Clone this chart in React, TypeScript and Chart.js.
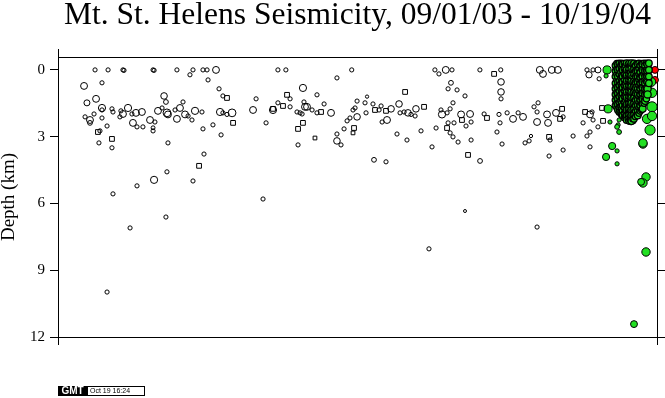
import { useEffect, useRef } from 'react';
import { Chart, registerables } from 'chart.js';

Chart.register(...registerables);

const TITLE = 'Mt. St. Helens Seismicity, 09/01/03 - 10/19/04';
const Y_TITLE = 'Depth (km)';
const DEPTH_TICKS = [0, 3, 6, 9, 12];
const DAY_START = 0; // 09/01/03
const DAY_END = 414; // 10/19/04
const DEPTH_TOP = -0.58;
const DEPTH_BOTTOM = 12;
const STAMP_LOGO = 'GMT';
const STAMP_TEXT = 'Oct 19 16:24';

// [day since 09/01/03, depth km, magnitude]
const openCircles: [number, number, number][] = [
  [25.6, 0, 0.6], [34.6, 0, 0.6], [44.9, 0, 0.6], [45.6, 0.02, 0.6], [65.7, 0, 0.6], [66.4, 0.02, 0.6],
  [82.2, 0, 0.6], [93.3, 0, 0.6], [100.2, 0, 0.6], [103, 0, 0.6], [109.2, 0, 1.5], [152, 0, 0.6],
  [157.5, 0, 0.6], [203, 0, 0.6], [260.5, 0, 0.6], [268, 0, 1.5], [272.3, 0, 0.6], [291.6, 0, 0.6],
  [306, 0, 0.6], [333, 0, 1.5], [341.3, 0, 1.5], [345.5, 0, 1.5], [365.6, 0, 0.6], [369.8, 0, 0.6], [373.2, 0, 1.2],
  [91.2, 0.22, 0.6], [18, 0.72, 1.5], [30.4, 0.58, 0.6], [103.7, 0.45, 0.6], [111.3, 0.85, 0.6], [169.3, 0.81, 1.6],
  [192.8, 0.36, 0.6], [263.3, 0.18, 0.6], [271.6, 0.58, 0.8], [269.6, 0.85, 0.6], [275.8, 0.9, 0.6],
  [306.2, 0.54, 1.4], [306.2, 0.99, 1.4], [306.2, 1.3, 0.6], [335.2, 0.18, 1.5], [367, 0.22, 1.3], [374, 0.4, 0.6],
  [26.3, 1.3, 1.5], [20, 1.48, 1.2], [30.4, 1.71, 1.6], [73.3, 1.17, 1.4], [74.6, 1.44, 0.8], [86.4, 1.44, 0.6],
  [114, 1.17, 0.6], [136.9, 1.3, 0.6], [160.4, 1.3, 0.6], [170, 1.44, 0.6], [170.7, 1.66, 1.5], [172.1, 1.66, 1.5],
  [179, 1.12, 0.6], [183.9, 1.53, 0.6], [206.7, 1.4, 0.6], [212.2, 1.48, 0.6], [213.6, 1.2, 0.3], [217.7, 1.53, 0.6],
  [223.3, 1.62, 0.6], [230.2, 1.75, 1.4], [235.7, 1.53, 1.4], [281.3, 1.17, 0.6], [273, 1.48, 0.6], [331.8, 1.48, 0.6],
  [329, 1.66, 0.6],
  [18.7, 2.11, 0.6], [22.1, 2.25, 1.5], [22.1, 2.38, 0.8], [24.9, 1.98, 0.6], [30.4, 1.8, 0.6], [30.4, 2.16, 0.6],
  [37.3, 1.75, 0.6], [38, 1.89, 0.6], [43.5, 1.84, 0.6], [42.8, 2.11, 0.6], [44.9, 1.98, 1.5], [48.4, 1.71, 1.6],
  [51.1, 1.98, 0.6], [51.8, 2.38, 1.5], [53.9, 1.93, 1.5], [58, 1.89, 1.5], [54.6, 2.56, 0.6], [58.7, 2.56, 0.6],
  [63.6, 2.25, 1.5], [67, 2.34, 0.6], [69.1, 1.84, 1.5], [71.9, 1.71, 0.6], [75.3, 1.93, 1.8], [76, 2.0, 1.5],
  [80.9, 1.8, 0.6], [82.2, 2.2, 1.5], [84.3, 1.71, 1.5], [87.8, 2.0, 1.5], [89.9, 2.07, 0.6], [92.6, 2.25, 0.6],
  [94.7, 1.84, 1.6], [99.5, 1.89, 0.6], [107.1, 2.47, 0.6], [112, 1.89, 1.6], [114, 1.93, 0.6], [116.8, 2.0, 0.6],
  [120.3, 1.93, 1.8], [134.8, 1.8, 1.5], [143.8, 2.38, 0.6], [148.6, 1.8, 1.6], [152, 1.48, 0.6], [160.4, 1.66, 0.6],
  [165.2, 1.89, 0.6], [168.7, 1.98, 0.6], [175.6, 1.8, 0.6], [179, 1.93, 0.6], [188.7, 1.93, 1.5], [167.3, 1.93, 0.6],
  [199.8, 2.29, 0.6], [201.8, 2.16, 0.6], [203.9, 1.8, 0.6], [205.3, 1.71, 0.6], [206.7, 2.11, 1.4], [212.9, 1.93, 0.6],
  [221.9, 1.8, 0.6], [224, 2.34, 0.6], [227.4, 2.25, 1.5], [236.4, 1.93, 0.6], [239.2, 1.89, 0.6], [241.9, 1.93, 1.4],
  [244, 2.0, 0.6], [247.4, 1.75, 1.4], [246.8, 2.07, 0.6], [264.7, 1.8, 0.6], [265.4, 2.0, 1.6], [268.9, 1.93, 0.6],
  [271, 1.75, 0.6], [269.6, 2.38, 0.6], [273.7, 2.38, 0.6], [278.6, 2.0, 1.5], [284.8, 1.98, 1.5], [285.5, 2.34, 0.6],
  [282, 2.52, 0.6], [294.5, 1.98, 0.6], [304.8, 2.0, 0.6], [305.5, 2.38, 0.6], [310.4, 1.93, 0.6], [314.5, 2.2, 1.5],
  [318, 1.93, 0.6], [321.4, 2.11, 1.5], [331.1, 2.34, 1.5], [331.1, 1.89, 0.6], [338, 2.0, 1.5], [338.7, 2.38, 1.5],
  [344.2, 1.93, 1.5], [349.1, 2.11, 0.6], [362.9, 2.38, 0.6], [367.7, 2.0, 1.5], [369.8, 2.25, 0.6], [369.1, 1.89, 0.6],
  [373.2, 2.56, 0.6],
  [29, 2.74, 0.6], [28.3, 3.28, 0.6], [37.3, 3.5, 0.6], [33.9, 2.52, 0.6], [65.7, 2.74, 0.6], [65.7, 2.6, 0.5],
  [76, 3.28, 0.6], [100.2, 2.65, 0.6], [112.7, 2.92, 0.6], [100.9, 3.78, 0.6], [165.9, 3.37, 0.6], [192.8, 2.88, 0.6],
  [192.8, 3.19, 1.4], [195.6, 3.37, 0.6], [197.7, 2.65, 0.6], [234.3, 2.88, 0.6], [241.2, 3.15, 0.6], [250.9, 2.74, 0.6],
  [258.5, 3.46, 0.6], [218.4, 4.04, 0.8], [226.7, 4.13, 0.6], [261.3, 2.61, 0.6], [271, 2.83, 0.6], [273, 3.01, 0.6],
  [276.5, 3.24, 0.6], [285.5, 3.15, 0.6], [291.7, 4.09, 0.8], [303.4, 2.79, 0.6], [306.9, 3.33, 0.6], [322.8, 3.28, 0.6],
  [325.6, 3.19, 0.6], [326.9, 2.97, 0.3], [340.1, 3.15, 0.6], [339.4, 3.87, 0.6], [356, 2.97, 0.6], [365.6, 2.97, 0.6],
  [367.7, 2.79, 0.6], [367.7, 3.46, 0.6], [349.1, 3.6, 0.6],
  [75.3, 4.58, 0.6], [66.4, 4.94, 1.6], [93.3, 4.99, 0.6], [54.6, 5.21, 0.6], [38, 5.57, 0.6], [141.7, 5.8, 0.6],
  [74.6, 6.61, 0.6], [49.8, 7.1, 0.6], [33.9, 9.98, 0.6], [281.3, 6.34, 0.2], [256.4, 8.04, 0.6], [331.1, 7.06, 0.6],
];

const openSquares: [number, number, number][] = [
  [116.8, 1.26, 0.6], [158.3, 1.12, 0.6], [239.9, 0.99, 0.6], [253, 1.66, 0.6], [301.4, 0.18, 0.6], [121, 2.38, 0.6],
  [148.6, 1.75, 0.6], [155.5, 1.62, 0.6], [169.3, 2.38, 0.6], [165.9, 2.65, 0.6], [181.8, 1.89, 0.6], [219.1, 1.8, 0.6],
  [226.7, 1.84, 0.6], [279.2, 2.25, 0.6], [296.5, 2.16, 0.6], [348.4, 1.75, 0.6], [347, 2.2, 0.6], [364.3, 1.89, 0.6],
  [376.7, 2.29, 0.6], [376, 1.71, 0.6], [27.6, 2.79, 0.6], [37.3, 3.1, 0.6], [97.5, 4.31, 0.6], [177.6, 3.06, 0.3],
  [204.6, 2.61, 0.6], [203.9, 2.83, 0.3], [268.9, 2.61, 0.6], [283.4, 3.82, 0.6], [339.4, 3.01, 0.6],
];

// dense swarm after the eruption onset: one column of depths per day
const swarmDays = [
  385.2, 386.1, 387.0, 387.8, 388.7, 389.5, 390.4, 391.2, 392.1, 393.0, 393.8, 394.7, 395.5, 396.4,
  397.2, 398.1, 399.0, 399.8, 400.7, 401.5, 402.4, 403.2, 404.1, 405.0, 405.8, 406.7, 407.5, 408.4,
];
const swarmDepths: number[][] = [
  [-0.2, 0.05, 0.3, 0.6, 0.85, 1.1, 1.35, 1.6],
  [-0.3, -0.05, 0.2, 0.45, 0.75, 1.0, 1.25, 1.5, 1.7],
  [-0.25, 0.0, 0.3, 0.55, 0.8, 1.05, 1.3, 1.55, 1.8],
  [-0.3, -0.05, 0.2, 0.5, 0.7, 0.95, 1.2, 1.45, 1.7, 1.9],
  [-0.2, 0.1, 0.35, 0.6, 0.85, 1.1, 1.4, 1.65, 1.9],
  [-0.3, -0.05, 0.25, 0.5, 0.75, 1.0, 1.25, 1.5, 1.75, 2.0],
  [-0.25, 0.0, 0.3, 0.55, 0.8, 1.05, 1.3, 1.6, 1.85, 2.05],
  [-0.3, -0.05, 0.2, 0.45, 0.7, 0.95, 1.2, 1.45, 1.7, 1.95, 2.15],
  [-0.2, 0.05, 0.3, 0.6, 0.85, 1.1, 1.35, 1.6, 1.85, 2.1],
  [-0.3, 0.0, 0.25, 0.5, 0.75, 1.0, 1.25, 1.55, 1.8, 2.05, 2.25],
  [-0.25, 0.05, 0.3, 0.55, 0.8, 1.05, 1.3, 1.55, 1.8, 2.0, 2.2],
  [-0.3, -0.05, 0.2, 0.45, 0.7, 0.95, 1.2, 1.5, 1.75, 2.0, 2.3],
  [-0.2, 0.1, 0.35, 0.6, 0.85, 1.1, 1.35, 1.6, 1.85, 2.1, 2.25],
  [-0.3, -0.05, 0.25, 0.5, 0.75, 1.0, 1.25, 1.5, 1.8, 2.05, 2.3],
  [-0.25, 0.0, 0.3, 0.55, 0.8, 1.05, 1.3, 1.55, 1.8, 2.05, 2.2],
  [-0.3, -0.05, 0.2, 0.5, 0.75, 1.0, 1.25, 1.5, 1.75, 2.0, 2.2],
  [-0.2, 0.05, 0.3, 0.55, 0.8, 1.05, 1.35, 1.6, 1.85, 2.1],
  [-0.3, 0.0, 0.25, 0.5, 0.75, 1.0, 1.25, 1.5, 1.75, 2.0],
  [-0.25, 0.05, 0.3, 0.55, 0.85, 1.1, 1.35, 1.6, 1.85, 2.05],
  [-0.3, -0.05, 0.2, 0.45, 0.7, 0.95, 1.2, 1.45, 1.7, 1.95],
  [-0.2, 0.1, 0.35, 0.6, 0.85, 1.1, 1.35, 1.6, 1.85],
  [-0.3, -0.05, 0.25, 0.5, 0.75, 1.0, 1.25, 1.5, 1.8],
  [-0.25, 0.0, 0.3, 0.55, 0.8, 1.05, 1.3, 1.55, 1.75],
  [-0.3, -0.05, 0.2, 0.5, 0.75, 1.0, 1.25, 1.5],
  [-0.2, 0.05, 0.3, 0.6, 0.85, 1.1, 1.4],
  [-0.3, 0.0, 0.25, 0.5, 0.8, 1.05, 1.3],
  [-0.25, 0.05, 0.3, 0.55, 0.85, 1.1],
  [-0.3, 0.0, 0.3, 0.6],
];
const swarmMags = [
  1.3, 1.1, 1.4, 1.2, 1.0, 1.3, 1.5, 1.1, 1.2, 1.4, 1.0, 1.3, 1.2, 1.5,
  1.1, 1.3, 1.2, 1.0, 1.4, 1.2, 1.3, 1.1, 1.5, 1.2, 1.4, 1.3, 1.6, 1.4,
];

// smaller swarm events between those days
const swarmDays2 = [
  385.6, 386.5, 387.4, 388.2, 389.1, 389.9, 390.8, 391.6, 392.5, 393.4, 394.2, 395.1, 395.9, 396.8,
  397.6, 398.5, 399.4, 400.2, 401.1, 401.9, 402.8, 403.6, 404.5, 405.4, 406.2, 407.1, 407.9,
];
const swarmDepths2: number[][] = [
  [-0.1, 0.2, 0.45, 0.7, 1.0, 1.2, 1.5],
  [-0.15, 0.1, 0.35, 0.65, 0.9, 1.15, 1.4, 1.6],
  [-0.2, 0.15, 0.4, 0.65, 0.95, 1.2, 1.45, 1.7],
  [-0.1, 0.1, 0.35, 0.6, 0.85, 1.1, 1.35, 1.6, 1.8],
  [-0.15, 0.2, 0.45, 0.75, 1.0, 1.25, 1.5, 1.8],
  [-0.2, 0.1, 0.4, 0.65, 0.9, 1.15, 1.4, 1.65, 1.9],
  [-0.1, 0.15, 0.45, 0.7, 0.95, 1.2, 1.45, 1.75, 1.95],
  [-0.15, 0.1, 0.35, 0.6, 0.85, 1.1, 1.35, 1.6, 1.85, 2.05],
  [-0.2, 0.2, 0.45, 0.7, 0.95, 1.25, 1.5, 1.75, 2.0, 2.2],
  [-0.1, 0.15, 0.4, 0.65, 0.9, 1.15, 1.4, 1.7, 1.95, 2.15],
  [-0.15, 0.1, 0.4, 0.7, 0.95, 1.2, 1.45, 1.7, 1.9, 2.3],
  [-0.2, 0.15, 0.35, 0.6, 0.85, 1.1, 1.35, 1.65, 1.9, 2.15],
  [-0.1, 0.2, 0.45, 0.75, 1.0, 1.25, 1.5, 1.75, 2.0, 2.35],
  [-0.15, 0.1, 0.4, 0.65, 0.9, 1.15, 1.4, 1.65, 1.95, 2.15],
  [-0.2, 0.15, 0.45, 0.7, 0.95, 1.2, 1.45, 1.7, 1.95, 2.3],
  [-0.1, 0.1, 0.35, 0.6, 0.9, 1.15, 1.4, 1.65, 1.9, 2.1],
  [-0.15, 0.2, 0.45, 0.7, 0.95, 1.2, 1.5, 1.75, 1.95],
  [-0.2, 0.15, 0.4, 0.65, 0.9, 1.15, 1.4, 1.65, 1.9],
  [-0.1, 0.1, 0.4, 0.7, 0.95, 1.25, 1.5, 1.7, 1.95],
  [-0.15, 0.15, 0.35, 0.6, 0.85, 1.1, 1.35, 1.6, 1.85],
  [-0.2, 0.2, 0.45, 0.75, 1.0, 1.2, 1.45, 1.7],
  [-0.1, 0.1, 0.4, 0.65, 0.9, 1.15, 1.4, 1.65],
  [-0.15, 0.15, 0.45, 0.7, 0.95, 1.2, 1.45],
  [-0.2, 0.1, 0.35, 0.65, 0.9, 1.15, 1.35],
  [-0.1, 0.2, 0.45, 0.7, 1.0, 1.2],
  [-0.15, 0.15, 0.4, 0.65, 0.95],
  [-0.2, 0.1, 0.45, 0.75],
];
const swarmMags2 = [
  0.8, 1.0, 0.9, 1.1, 0.8, 1.0, 0.9, 1.2, 0.8, 1.0, 0.9, 1.1, 0.8, 1.0,
  0.9, 1.2, 0.8, 1.0, 1.1, 0.9, 1.0, 0.8, 1.1, 0.9, 1.0, 1.2, 1.1,
];

// many tiny events packed in the core of the swarm
const coreDays = [
  388.3, 389.2, 390.0, 390.9, 391.7, 392.6, 393.5, 394.3, 395.2, 396.0, 396.9, 397.7, 398.6, 399.5, 400.3, 401.2, 402.0,
];
const coreDepths: number[][] = [
  [0.9, 1.1, 1.3, 1.5],
  [0.8, 1.0, 1.2, 1.4, 1.6],
  [0.7, 0.9, 1.1, 1.3, 1.5, 1.7],
  [0.8, 1.0, 1.2, 1.4, 1.6, 1.8],
  [0.6, 0.8, 1.0, 1.2, 1.4, 1.6, 1.85],
  [0.7, 0.9, 1.1, 1.3, 1.5, 1.7, 1.9],
  [0.6, 0.8, 1.0, 1.2, 1.4, 1.6, 1.8, 2.0],
  [0.7, 0.9, 1.1, 1.3, 1.5, 1.7, 1.9, 2.1],
  [0.6, 0.8, 1.0, 1.2, 1.4, 1.6, 1.8, 2.0],
  [0.7, 0.9, 1.1, 1.3, 1.5, 1.7, 1.9, 2.1],
  [0.8, 1.0, 1.2, 1.4, 1.6, 1.8, 2.0],
  [0.7, 0.9, 1.1, 1.3, 1.5, 1.7, 1.9],
  [0.8, 1.0, 1.2, 1.4, 1.6, 1.8],
  [0.9, 1.1, 1.3, 1.5, 1.7],
  [0.8, 1.0, 1.2, 1.4, 1.6],
  [1.0, 1.2, 1.4],
  [1.1, 1.3],
];
const coreMags = [0.5, 0.5, 0.5, 0.5, 0.5, 0.5, 0.5, 0.5, 0.5, 0.5, 0.5, 0.5, 0.5, 0.5, 0.5, 0.5, 0.5];

// eruption-period events outside the dense swarm
const eruptionQuakes: [number, number, number][] = [
  [379.5, 0, 1.9], [378.8, 0.27, 0.6], [380.2, 1.75, 1.9], [381.5, 2.34, 0.6], [387.8, 2.25, 0.6], [387.1, 2.47, 0.6],
  [386.4, 2.56, 0.8], [387.8, 2.79, 0.8], [383, 3.42, 1.6], [378.8, 3.91, 1.6], [386.4, 3.64, 0.6], [386.4, 4.22, 0.6],
  [404.3, 3.33, 2.0], [406.4, 4.81, 2.0], [404.3, 5.08, 2.0], [403, 5.03, 1.5], [406.4, 8.18, 2.0], [398.1, 11.42, 1.5],
  [407.1, 2.2, 2.3], [409.9, 0.54, 2.3], [410.6, 1.03, 2.3], [410.6, 1.66, 2.6], [410.6, 2.07, 2.3], [409.2, 2.7, 2.6],
  [404.3, 3.28, 2.0],
];

const latestQuakes: [number, number, number][] = [
  [412.6, 0, 1.5], [412.6, 0.45, 1.5],
];

const radiusOf = (m: number) => 1.2 + 1.5 * m;

const columnsToList = (days: number[], depths: number[][], mags: number[]) =>
  days.flatMap((d, i) => depths[i].map((z) => [d, z, mags[i]] as [number, number, number]));

function makeDataset(list: [number, number, number][], fill: string, style: string, scale = 1, lw = 1) {
  return {
    data: list.map(([d, z]) => ({ x: d, y: z })),
    pointStyle: style,
    pointRadius: list.map(([, , m]) => radiusOf(m) * scale),
    pointHoverRadius: list.map(([, , m]) => radiusOf(m) * scale),
    pointBackgroundColor: fill,
    pointBorderColor: '#000',
    pointBorderWidth: lw,
    pointHoverBorderWidth: lw,
    showLine: false,
    clip: false as const,
    xAxisID: 'x',
    yAxisID: 'y',
  };
}

const SERIF = '"Liberation Serif", "Times New Roman", serif';
const GREEN = '#22e022';

export default function App() {
  const ref = useRef<HTMLCanvasElement | null>(null);

  useEffect(() => {
    if (!ref.current) return;
    const depthTicks = (scale: any) => {
      scale.ticks = DEPTH_TICKS.map((v) => ({ value: v }));
    };
    const dayTicks = (scale: any) => {
      scale.ticks = [{ value: DAY_START }, { value: DAY_END }];
    };
    const grid = { drawOnChartArea: false, drawTicks: true, tickLength: 8, color: '#000', lineWidth: 1 };
    const border = { display: true, color: '#000', width: 1 };

    const stamp = {
      id: 'gmtStamp',
      afterDraw(chart: any) {
        const { ctx, chartArea } = chart;
        const x0 = chartArea.left;
        const y0 = chartArea.bottom + 49;
        ctx.save();
        ctx.fillStyle = '#000';
        ctx.fillRect(x0, y0, 29, 10);
        ctx.fillStyle = '#fff';
        ctx.font = 'bold 10px "Liberation Sans", Arial, sans-serif';
        ctx.textAlign = 'center';
        ctx.textBaseline = 'middle';
        ctx.fillText(STAMP_LOGO, x0 + 14.5, y0 + 5.5);
        ctx.strokeStyle = '#000';
        ctx.lineWidth = 1;
        ctx.strokeRect(x0 + 29.5, y0 + 0.5, 57, 9);
        ctx.fillStyle = '#000';
        ctx.font = '7px "Liberation Sans", Arial, sans-serif';
        ctx.textAlign = 'left';
        ctx.fillText(STAMP_TEXT, x0 + 32, y0 + 5.5);
        ctx.restore();
      },
    };

    const chart = new Chart(ref.current, {
      type: 'scatter',
      data: {
        datasets: [
          makeDataset(openCircles, 'rgba(0,0,0,0)', 'circle'),
          makeDataset(openSquares, 'rgba(0,0,0,0)', 'rect', 1.6),
          makeDataset(columnsToList(swarmDays, swarmDepths, swarmMags), GREEN, 'circle', 1, 1.3),
          makeDataset(columnsToList(swarmDays2, swarmDepths2, swarmMags2), GREEN, 'circle', 1, 1.3),
          makeDataset(columnsToList(coreDays, coreDepths, coreMags), GREEN, 'circle', 1, 1.3),
          makeDataset(eruptionQuakes, GREEN, 'circle'),
          makeDataset(latestQuakes, '#ff0000', 'circle'),
        ] as any,
      },
      options: {
        responsive: false,
        devicePixelRatio: 1,
        animation: false,
        events: [],
        layout: { padding: { left: 0, right: 0, top: 0, bottom: 53 } },
        plugins: {
          legend: { display: false },
          tooltip: { enabled: false },
          title: {
            display: true,
            text: TITLE,
            fullSize: false,
            color: '#000',
            font: { family: SERIF, size: 31.5, weight: 'normal', lineHeight: 1 },
            padding: { top: 0, bottom: 17.5 },
          },
        },
        scales: {
          x: {
            type: 'linear',
            position: 'bottom',
            min: DAY_START,
            max: DAY_END,
            afterBuildTicks: dayTicks,
            ticks: { display: false },
            grid,
            border,
            afterFit: (s: any) => { s.height = 8; },
          },
          x2: {
            type: 'linear',
            position: 'top',
            min: DAY_START,
            max: DAY_END,
            afterBuildTicks: dayTicks,
            ticks: { display: false },
            grid,
            border,
            afterFit: (s: any) => { s.height = 8; },
          },
          y: {
            type: 'linear',
            position: 'left',
            reverse: true,
            min: DEPTH_TOP,
            max: DEPTH_BOTTOM,
            afterBuildTicks: depthTicks,
            ticks: { color: '#000', font: { family: SERIF, size: 15 }, padding: 5 },
            grid,
            border,
            title: {
              display: true,
              text: Y_TITLE,
              color: '#000',
              font: { family: SERIF, size: 19, lineHeight: 1 },
              padding: { top: 0, bottom: 0 },
            },
            afterFit: (s: any) => { s.width = 58; },
          },
          y2: {
            type: 'linear',
            position: 'right',
            reverse: true,
            min: DEPTH_TOP,
            max: DEPTH_BOTTOM,
            afterBuildTicks: depthTicks,
            ticks: { display: false },
            grid,
            border,
            afterFit: (s: any) => { s.width = 8; },
          },
        },
      } as any,
      plugins: [stamp],
    });
    return () => chart.destroy();
  }, []);

  return (
    <div style={{ position: 'absolute', left: 0, top: 0, width: 665, height: 398, background: '#fff' }}>
      <canvas ref={ref} width={665} height={398} style={{ display: 'block' }} />
    </div>
  );
}
